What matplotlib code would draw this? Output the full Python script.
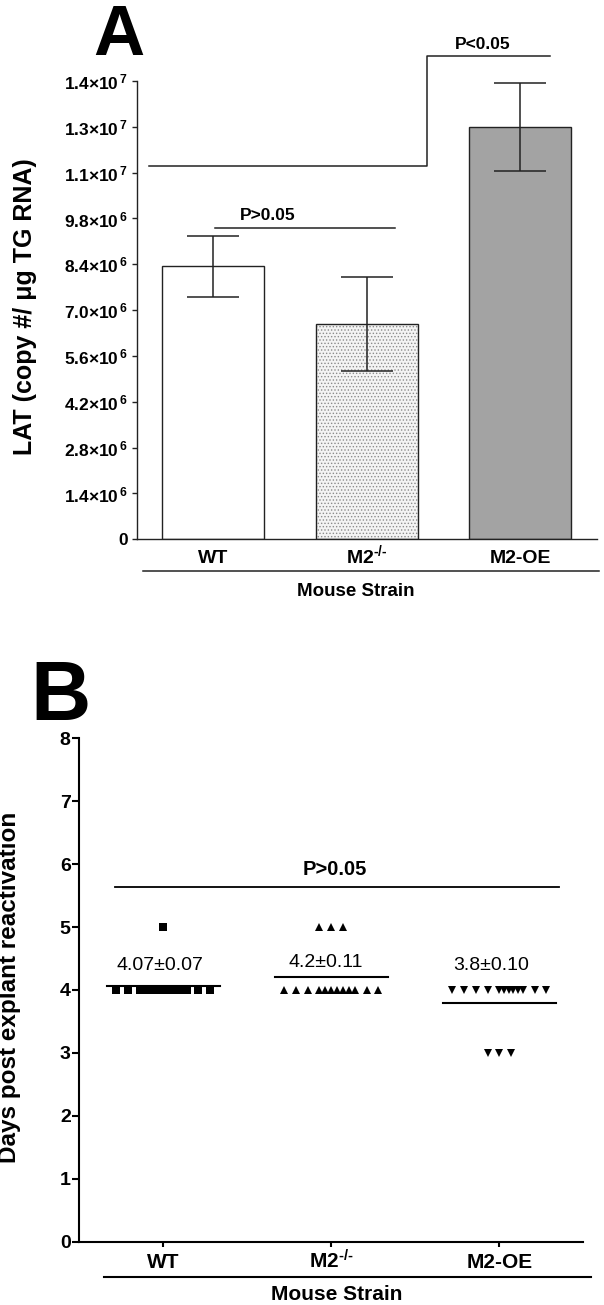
import numpy as np
import matplotlib
matplotlib.use('Agg')
import matplotlib.pyplot as plt

plt.rcParams['font.family'] = ['Liberation Sans', 'DejaVu Sans']
plt.rcParams['mathtext.fontset'] = 'custom'
plt.rcParams['mathtext.rm'] = 'Liberation Sans:bold'
plt.rcParams['mathtext.it'] = 'Liberation Sans:bold'
plt.rcParams['mathtext.bf'] = 'Liberation Sans:bold'
plt.rcParams['hatch.linewidth'] = 0.6

# ---- data, panel A (LAT copies) ----
strains = ['WT', 'M2$^{\\text{-/-}}$', 'M2-OE']
lat_mean = [8.34e6, 6.58e6, 12.60e6]
lat_sem = [0.93e6, 1.44e6, 1.34e6]
lat_ticks = [0, 1.4e6, 2.8e6, 4.2e6, 5.6e6, 7.0e6, 8.4e6, 9.8e6, 11.2e6, 12.6e6, 14.0e6]
lat_ticklabels = ['0', '1.4\u00d710$^{\\,6}$', '2.8\u00d710$^{\\,6}$', '4.2\u00d710$^{\\,6}$',
                  '5.6\u00d710$^{\\,6}$', '7.0\u00d710$^{\\,6}$', '8.4\u00d710$^{\\,6}$',
                  '9.8\u00d710$^{\\,6}$', '1.1\u00d710$^{\\,7}$', '1.3\u00d710$^{\\,7}$',
                  '1.4\u00d710$^{\\,7}$']

# ---- data, panel B (days to reactivation, one value per mouse) ----
days_wt = [5, 4, 4, 4, 4, 4, 4, 4, 4, 4, 4, 4, 4, 4, 4]
days_m2 = [5, 5, 5, 4, 4, 4, 4, 4, 4, 4, 4, 4, 4, 4, 4]
days_oe = [4, 4, 4, 4, 4, 4, 4, 4, 4, 4, 4, 4, 3, 3, 3]
days_mean = [4.07, 4.2, 3.8]
days_labels = ['4.07\u00b10.07', '4.2\u00b10.11', '3.8\u00b10.10']

# how many points sit apart on each side of a crowded row (GraphPad-like layout)
row_split = [(2, 2), (3, 2), (4, 2)]


def row_positions(vals, split, step=0.07, half=0.28):
    vals = np.asarray(vals)
    xs = np.zeros(len(vals))
    for v in np.unique(vals):
        idx = np.where(vals == v)[0]
        n = len(idx)
        if n <= 3:
            pos = (np.arange(n) - (n - 1) / 2) * step
        else:
            L, R = split
            left = -half + np.arange(L) * step
            right = half - np.arange(R)[::-1] * step
            inner = np.linspace(-half + L * step, half - R * step, n - L - R)
            pos = np.concatenate([left, inner, right])
        xs[idx] = pos
    return xs


fig = plt.figure(figsize=(6.04, 13.05), dpi=100)
W, H = 604.0, 1305.0
ink = '#222222'

# ================= panel A =================
axA = fig.add_axes([136.7 / W, 1 - 539.3 / H, 460 / W, 458.3 / H])
x = np.arange(len(strains))
bw = 0.664
axA.bar(x[0], lat_mean[0], width=bw, color='white', edgecolor=ink, lw=1.0, zorder=2)
axA.bar(x[1], lat_mean[1], width=bw, color='#f4f4f4', edgecolor='#8c8c8c', lw=0,
        hatch='.....', zorder=2)
axA.bar(x[1], lat_mean[1], width=bw, color='none', edgecolor=ink, lw=1.0, zorder=2)
axA.bar(x[2], lat_mean[2], width=bw, color='#a3a3a3', edgecolor=ink, lw=1.0, zorder=2)
axA.errorbar(x, lat_mean, yerr=lat_sem, fmt='none', ecolor=ink, elinewidth=1.1,
             capsize=18.5, capthick=1.1, zorder=3)

axA.plot([0.013, 1.184], [9.51e6, 9.51e6], color=ink, lw=1.1, clip_on=False)
axA.text(0.353, 9.75e6, 'P>0.05', ha='center', va='baseline', fontsize=12.5, weight='bold')
axA.plot([-0.419, 1.391, 1.391, 2.193], [11.41e6, 11.41e6, 14.76e6, 14.76e6],
         color=ink, lw=1.1, clip_on=False)
axA.text(1.756, 14.98e6, 'P<0.05', ha='center', va='baseline', fontsize=12.5, weight='bold')

axA.set_xlim(-0.5, 2.5)
axA.set_ylim(0, 1.4e7)
axA.set_yticks(lat_ticks)
axA.set_yticklabels(lat_ticklabels)
axA.set_xticks(x)
axA.set_xticklabels(strains)
axA.tick_params(axis='y', length=3.6, width=1.0, pad=2.5, labelsize=12.5, color=ink)
axA.tick_params(axis='x', length=0, pad=17.3, labelsize=14)
plt.setp(axA.get_yticklabels(), weight='bold')
plt.setp(axA.get_xticklabels(), weight='bold', va='baseline')
for s in ['top', 'right']:
    axA.spines[s].set_visible(False)
for s in ['left', 'bottom']:
    axA.spines[s].set_linewidth(1.0)
    axA.spines[s].set_color(ink)

axA.plot([0.0143, 1.005], [-0.0685, -0.0685], transform=axA.transAxes,
         color=ink, lw=1.1, clip_on=False)
axA.text(0.4767, -0.123, 'Mouse Strain', transform=axA.transAxes, ha='center',
         va='baseline', fontsize=13.5, weight='bold')
fig.text(25 / W, 1 - 307 / H, 'LAT (copy #/ \u03bcg TG RNA)', rotation=90,
         ha='center', va='center', fontsize=18, weight='bold')
fig.text(118.7 / W, 1 - 55 / H, 'A', ha='center', va='baseline', fontsize=51, weight='bold')

# ================= panel B =================
axB = fig.add_axes([79 / W, 1 - 1241.7 / H, 504.4 / W, 503.4 / H])
groups = [days_wt, days_m2, days_oe]
markers = [('s', 5.2), ('^', 6.2), ('v', 6.2)]
for i, vals in enumerate(groups):
    xs = i + row_positions(vals, row_split[i])
    axB.plot(xs, vals, linestyle='none', marker=markers[i][0], ms=markers[i][1],
             color='black', mec='black', mew=0, clip_on=False, zorder=3)
    axB.plot([i - 0.336, i + 0.336], [days_mean[i], days_mean[i]], color='black', lw=1.5)

axB.text(-0.02, 4.32, days_labels[0], ha='center', va='baseline', fontsize=14)
axB.text(-0.032 + 1, 4.37, days_labels[1], ha='center', va='baseline', fontsize=14)
axB.text(-0.05 + 2, 4.31, days_labels[2], ha='center', va='baseline', fontsize=14)

axB.plot([-0.286, 2.357], [5.63, 5.63], color='black', lw=1.3)
axB.text(1.02, 5.82, 'P>0.05', ha='center', va='baseline', fontsize=14.5, weight='bold')

axB.set_xlim(-0.5, 2.5)
axB.set_ylim(0, 8)
axB.set_yticks(range(0, 9))
axB.set_xticks(x)
axB.set_xticklabels(strains)
axB.tick_params(axis='y', length=5, width=1.5, pad=1, labelsize=14)
axB.tick_params(axis='x', length=3.6, width=1.5, pad=15.6, labelsize=15)
plt.setp(axB.get_yticklabels(), weight='bold')
plt.setp(axB.get_xticklabels(), weight='bold', va='baseline')
for s in ['top', 'right']:
    axB.spines[s].set_visible(False)
for s in ['left', 'bottom']:
    axB.spines[s].set_linewidth(1.5)

axB.plot([0.0496, 1.015], [-0.0695, -0.0695], transform=axB.transAxes,
         color='black', lw=1.5, clip_on=False)
axB.text(0.5115, -0.1165, 'Mouse Strain', transform=axB.transAxes, ha='center',
         va='baseline', fontsize=15, weight='bold')
fig.text(10 / W, 1 - 987.3 / H, 'Days post explant reactivation', rotation=90,
         ha='center', va='center', fontsize=17.5, weight='bold')
fig.text(60.8 / W, 1 - 720 / H, 'B', ha='center', va='baseline', fontsize=60, weight='bold')

fig.savefig('out.png', dpi=100)
